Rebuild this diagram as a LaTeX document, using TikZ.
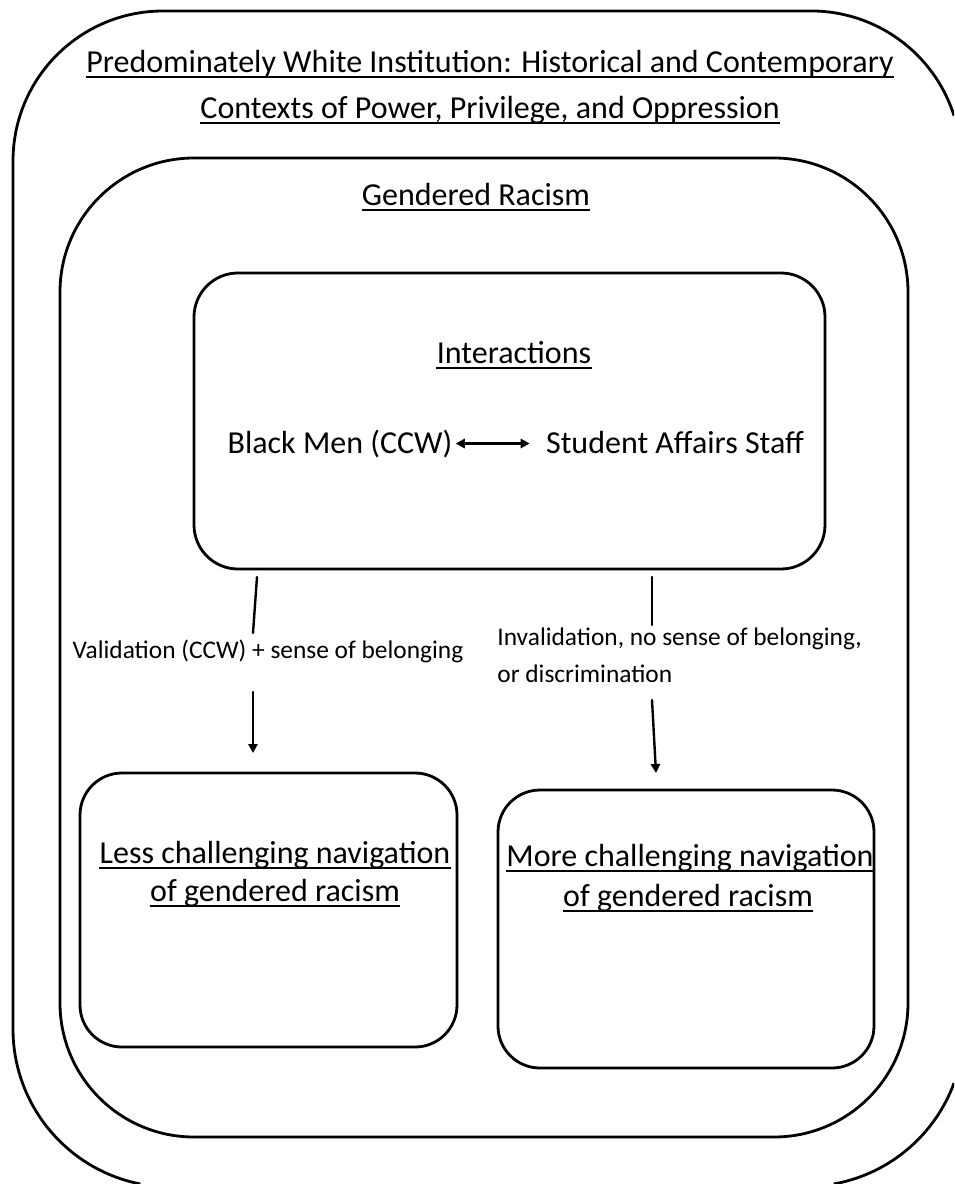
\documentclass[tikz,border=0pt]{standalone}
\usepackage{fontspec}
\setmainfont{Carlito}
\usepackage{tikz}
\usetikzlibrary{arrows.meta}

\begin{document}
\begin{tikzpicture}[line cap=round,line join=round,>={Triangle[length=4.5pt,width=4.6pt]},x=0.5pt,y=0.5pt,
    frame/.style={line width=1.4pt},
    link/.style={line width=1.2pt},
    uline/.style={line width=1pt,line cap=butt},
    bigtext/.style={font=\fontsize{16}{19}\selectfont,inner sep=0pt,anchor=base},
    smalltext/.style={font=\fontsize{12.7}{15}\selectfont,inner sep=0pt,anchor=base}]
    \useasboundingbox (0.,0.) rectangle (954.,-1184.);
    \clip (0.,0.) rectangle (954.,-1184.);
    % outer context frame, runs off the page on the right and at the bottom
    \draw [frame,line cap=butt] (954.,-115.6) arc (17.6:90:150.) -- (163.,-11.) arc (90:180:150.)
        -- (13.,-1029.) arc (180:258.8:158.);
    \draw [frame,line cap=butt] (833.7,-1184.) arc (-79.8:-20.2:158.);
    % inner frames
    \draw [frame,rounded corners=67pt] (60.,-158.) rectangle (908.,-1137.);
    \draw [frame,rounded corners=22pt] (194.,-273.) rectangle (825.,-569.);
    \draw [frame,rounded corners=21pt] (80.,-773.) rectangle (457.,-1047.);
    \draw [frame,rounded corners=21pt] (498.,-790.) rectangle (874.,-1068.);
    % titles
    \node[bigtext] (pwi) at (490.,-72.) {Predominately White Institution: Historical and Contemporary};
    \node[bigtext] (ctx) at (490.,-118.) {Contexts of Power, Privilege, and Oppression};
    \node[bigtext] (gr) at (476.,-205.) {Gendered Racism};
    \node[bigtext] (inter) at (514.,-363.) {Interactions};
    \node[bigtext] (bm) at (340.,-453.) {Black Men (CCW)};
    \node[bigtext] (sas) at (675.,-453.) {Student Affairs Staff};
    \draw [link,<->,shorten <=1.5pt,shorten >=8pt] (bm.east) -- (bm.east -| sas.west);
    % outcomes
    \node[bigtext] (less1) at (275.,-863.) {Less challenging navigation};
    \node[bigtext] (less2) at (275.,-901.) {of gendered racism};
    \node[bigtext] (more1) at (690.,-866.) {More challenging navigation};
    \node[bigtext] (more2) at (688.,-906.) {of gendered racism};
    \node[smalltext] (val) at (268.,-658.) {Validation (CCW) + sense of belonging};
    \node[smalltext,anchor=base west] (inv1) at (497.,-645.) {Invalidation, no sense of belonging,};
    \node[smalltext,anchor=base west] (inv2) at (497.,-682.) {or discrimination};
    % underlines
    \foreach \n in {pwi,ctx,gr,inter,less1,less2,more1,more2}
        \draw [uline] ([yshift=-2.6pt]\n.base west) -- ([yshift=-2.6pt]\n.base east);
    % connectors
    \coordinate (v1) at (257.,-577.);
    \coordinate (v2) at (253.,-633.);
    \coordinate (v3) at (253.,-692.);
    \coordinate (v4) at (253.,-753.);
    \coordinate (i1) at (652.,-577.);
    \coordinate (i2) at (652.,-625.);
    \coordinate (i3) at (652.,-700.);
    \coordinate (i4) at (656.,-773.);
    \draw [link] (v1) -- (v2);
    \draw [link,->] (v3) -- (v4);
    \draw [link] (i1) -- (i2);
    \draw [link,->] (i3) -- (i4);
\end{tikzpicture}
\end{document}
